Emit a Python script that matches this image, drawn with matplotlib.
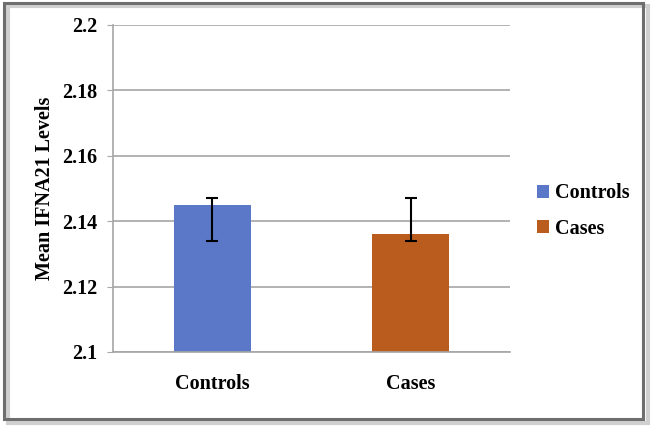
import numpy as np
import matplotlib.pyplot as plt
from matplotlib.patches import Rectangle, Patch

groups = ["Controls", "Cases"]
means = [2.145, 2.136]
err_low = [2.134, 2.134]
err_high = [2.147, 2.147]
colors = ["#5B78C8", "#B95C1E"]
y_ticks = [2.1, 2.12, 2.14, 2.16, 2.18, 2.2]
y_tick_labels = ["2.1", "2.12", "2.14", "2.16", "2.18", "2.2"]

plt.rcParams["font.family"] = ["Liberation Serif", "DejaVu Serif"]
plt.rcParams["font.weight"] = "bold"
FS = 14.5

fig = plt.figure(figsize=(6.53, 4.28), dpi=100)
ax = fig.add_axes([0.173, 0.1776, 0.608, 0.764])

x = np.arange(len(groups))
means = np.array(means)
yerr = np.array([means - np.array(err_low), np.array(err_high) - means])
ax.bar(x, means - 2.1, bottom=2.1, width=0.39, color=colors, zorder=2)
ax.errorbar(x, means, yerr=yerr, fmt="none", ecolor="black", elinewidth=1.5,
            capsize=4, capthick=1.5, zorder=3)

ax.set_xlim(-0.5, 1.5)
ax.set_ylim(2.1, 2.2)
ax.set_yticks(y_ticks)
ax.set_yticklabels(y_tick_labels, fontsize=FS, fontweight="bold")
ax.set_xticks(x)
ax.set_xticklabels(groups, fontsize=FS, fontweight="bold")
ax.tick_params(axis="x", length=0, pad=16)
ax.tick_params(axis="y", length=4, color="#A6A6A6", pad=7.5)
ax.grid(axis="y", color="#A6A6A6", linewidth=1.2, zorder=0)
ax.set_axisbelow(True)
for side in ["top", "right"]:
    ax.spines[side].set_visible(False)
ax.spines["left"].set_color("#A6A6A6")
ax.spines["bottom"].set_color("#A6A6A6")
ax.spines["left"].set_linewidth(1.2)
ax.spines["bottom"].set_linewidth(1.2)

ax.set_ylabel("Mean IFNA21 Levels", fontsize=FS, fontweight="bold", labelpad=5)

handles = [Patch(facecolor=c, label=g) for g, c in zip(groups, colors)]
fig.legend(handles=handles, loc="center left", bbox_to_anchor=(0.794, 0.507),
           frameon=False, handlelength=0.6, handleheight=0.6,
           handletextpad=0.3, labelspacing=0.75, prop={"weight": "bold", "size": FS})

# frame with shadow around the whole chart
fig.patches.append(Rectangle((0.012, 0.012), 0.98, 0.975, transform=fig.transFigure,
                             fill=False, edgecolor="#D0D0D0", linewidth=3, zorder=0))
fig.patches.append(Rectangle((0.006, 0.02), 0.978, 0.972, transform=fig.transFigure,
                             fill=False, edgecolor="#6E6E6E", linewidth=2.2, zorder=1))

fig.savefig("out.png", dpi=100)
